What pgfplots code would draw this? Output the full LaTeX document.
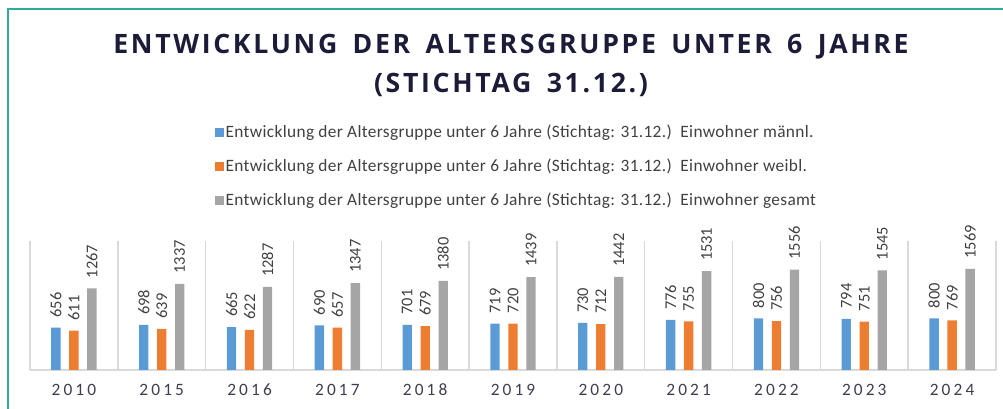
\documentclass[border=0pt]{standalone}
\usepackage{pgfplots}
\pgfplotsset{compat=1.18}
\usepackage{fontspec}
\setmainfont{Carlito}
\newfontfamily\titlefont[LetterSpace=10,WordSpace=1.6]{Open Sans}
\newfontfamily\yearfont[LetterSpace=18]{Carlito}
\newfontfamily\legfont[LetterSpace=2]{Carlito}
\definecolor{cblue}{HTML}{5B9BD5}
\definecolor{corange}{HTML}{ED7D31}
\definecolor{cgray}{HTML}{A5A5A5}
\definecolor{ctitle}{HTML}{1C1B38}
\definecolor{ctext}{HTML}{404040}
\definecolor{cyear}{HTML}{3E3E4E}
\definecolor{cgrid}{HTML}{D9D9D9}
\definecolor{cframe}{HTML}{33A99C}
\begin{document}
\begin{tikzpicture}[x=0.75pt,y=0.75pt]
\useasboundingbox (0,0) rectangle (1003,409);
\draw[cframe, line width=1.5pt] (8,-10) -- (8,400) -- (1015,400);
\node[font=\titlefont\bfseries\fontsize{20}{24}\selectfont, text=ctitle] at (511,362) {ENTWICKLUNG DER ALTERSGRUPPE UNTER 6 JAHRE};
\node[font=\titlefont\bfseries\fontsize{20}{24}\selectfont, text=ctitle] at (511,324) {(STICHTAG 31.12.)};
\begin{scope}[shift={(30,39)}]
\begin{axis}[
  at={(0,0)}, anchor=south west, scale only axis,
  width=724.5pt, height=96.75pt,
  xmin=-0.5, xmax=10.5, ymin=0, ymax=2000,
  axis line style={draw=none},
  xtick={0,...,10},
  xticklabels={2010,2015,2016,2017,2018,2019,2020,2021,2022,2023,2024},
  xticklabel style={font=\yearfont\fontsize{13}{15}\selectfont, text=cyear, yshift=-7pt},
  major tick length=0pt,
  minor xtick={-0.5,0.5,...,10.5},
  minor tick length=0pt,
  xminorgrids=true,
  minor grid style={cgrid, line width=1.1pt},
  ytick=\empty,
  ybar, bar width=7pt,
  /pgf/number format/assume math mode=true,
  /pgf/number format/1000 sep={},
  nodes near coords,
  nodes near coords style={rotate=90, anchor=west, inner xsep=7.5pt, inner ysep=0pt, font=\fontsize{12.3}{14}\selectfont, text=ctext},
  clip=false,
  legend style={at={(0.1915,1.91)}, anchor=north west, draw=none, fill=none, inner sep=0pt,
     font=\legfont\fontsize{13}{15}\selectfont, text=ctext, row sep=12.5pt,
     nodes={inner sep=1pt}},
  legend cell align=left,
  legend image code/.code={\fill[#1] (0pt,-3.4pt) rectangle (6.8pt,3.4pt);},
]
\draw[cgrid, line width=1.3pt] (axis cs:-0.5,0) -- (axis cs:10.5,0);
\addplot[fill=cblue, draw=none, bar shift=-13.5pt] coordinates {(0,656) (1,698) (2,665) (3,690) (4,701) (5,719) (6,730) (7,776) (8,800) (9,794) (10,800)};
\addlegendentry{Entwicklung der Altersgruppe unter 6 Jahre (Stichtag: 31.12.)\ \ Einwohner männl.}
\addplot[fill=corange, draw=none, bar shift=0pt] coordinates {(0,611) (1,639) (2,622) (3,657) (4,679) (5,720) (6,712) (7,755) (8,756) (9,751) (10,769)};
\addlegendentry{Entwicklung der Altersgruppe unter 6 Jahre (Stichtag: 31.12.)\ \ Einwohner weibl.}
\addplot[fill=cgray, draw=none, bar shift=13.5pt] coordinates {(0,1267) (1,1337) (2,1287) (3,1347) (4,1380) (5,1439) (6,1442) (7,1531) (8,1556) (9,1545) (10,1569)};
\addlegendentry{Entwicklung der Altersgruppe unter 6 Jahre (Stichtag: 31.12.)\ \ Einwohner gesamt}
\end{axis}
\end{scope}
\end{tikzpicture}
\end{document}
